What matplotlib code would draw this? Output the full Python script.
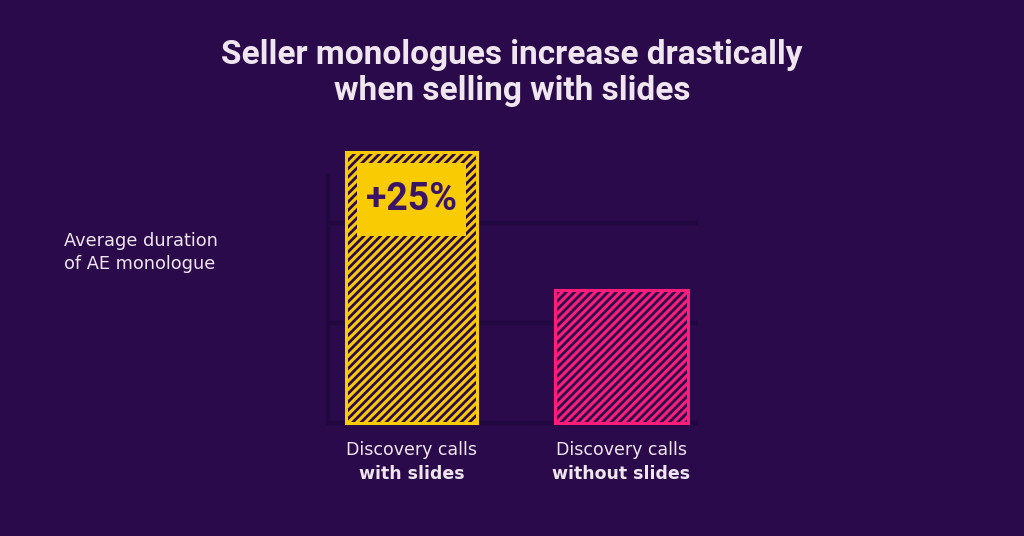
import matplotlib
matplotlib.use("Agg")
import matplotlib.pyplot as plt
from matplotlib.patches import Rectangle

categories_top = ["Discovery calls", "Discovery calls"]
categories_bottom = ["with slides", "without slides"]
values = [271, 133]
gridlines = [0, 100, 200]
axis_top = 249
label_text = "+25%"
title = "Seller monologues increase drastically\nwhen selling with slides"
ylabel = "Average duration\nof AE monologue"

BG = "#2b0a4b"
GRID = "#220840"
YELLOW = "#f8cb02"
PINK = "#fb1d79"
TXT = "#efe6ef"

plt.rcParams['hatch.linewidth'] = 2.0

W, H = 1024, 536
fig = plt.figure(figsize=(W / 100, H / 100), dpi=100, facecolor=BG)

def fx(px):
    return px / W

def fy(py):
    return 1 - py / H

left, right, bottom, top = 326, 698, 423, 152
ax = fig.add_axes([fx(left), fy(bottom), fx(right) - fx(left), fy(top) - fy(bottom)])
ax.set_facecolor("none")
ax.set_xlim(0, right - left)
ax.set_ylim(0, values[0])
for s in ax.spines.values():
    s.set_visible(False)
ax.set_xticks([])
ax.set_yticks([])

# gridlines and axis
for g in gridlines:
    ax.plot([0, right - left], [g, g], color=GRID, lw=3.2, solid_capstyle="butt", zorder=1, clip_on=False)
ax.plot([2, 2], [0, axis_top], color=GRID, lw=3.2, solid_capstyle="butt", zorder=1, clip_on=False)

xs = [(346 + 477) / 2 - left, (555 + 688) / 2 - left]
widths = [131, 133]
colors = [YELLOW, PINK]
for x, w, v, c in zip(xs, widths, values, colors):
    ax.bar(x, v, width=w, color=c, edgecolor=BG, hatch="////", linewidth=0, zorder=2, clip_on=False)
    ax.bar(x, v, width=w, facecolor="none", edgecolor=c, linewidth=2.2, zorder=3, clip_on=False)

# +25% box
bx0, bx1, by0, by1 = 357 - left, 466 - left, bottom - 236, bottom - 163
ax.add_patch(Rectangle((bx0, by0), bx1 - bx0, by1 - by0, facecolor=YELLOW, edgecolor="none", zorder=4, clip_on=False))
ax.text((bx0 + bx1) / 2, (by0 + by1) / 2, label_text, ha="center", va="center", fontsize=27,
        fontweight="bold", color="#3a1466", family="Roboto", zorder=5)

# title
tl = title.split("\n")
fig.text(0.5, fy(55), tl[0], ha="center", va="center", fontsize=24, fontweight="bold",
         color=TXT, family="Roboto")
fig.text(0.5, fy(91), tl[1], ha="center", va="center", fontsize=24, fontweight="bold",
         color=TXT, family="Roboto")

# y label
yl = ylabel.split("\n")
fig.text(fx(64), fy(241), yl[0], ha="left", va="center", fontsize=12.8, color=TXT, family="DejaVu Sans")
fig.text(fx(64), fy(264), yl[1], ha="left", va="center", fontsize=12.8, color=TXT, family="DejaVu Sans")

# x labels
for x, t1, t2 in zip(xs, categories_top, categories_bottom):
    px = x + left
    fig.text(fx(px), fy(450), t1, ha="center", va="center", fontsize=12.5, color=TXT, family="DejaVu Sans")
    fig.text(fx(px), fy(474), t2, ha="center", va="center", fontsize=12.5, fontweight="bold", color=TXT, family="DejaVu Sans")

fig.savefig("out.png", dpi=100, facecolor=BG)
